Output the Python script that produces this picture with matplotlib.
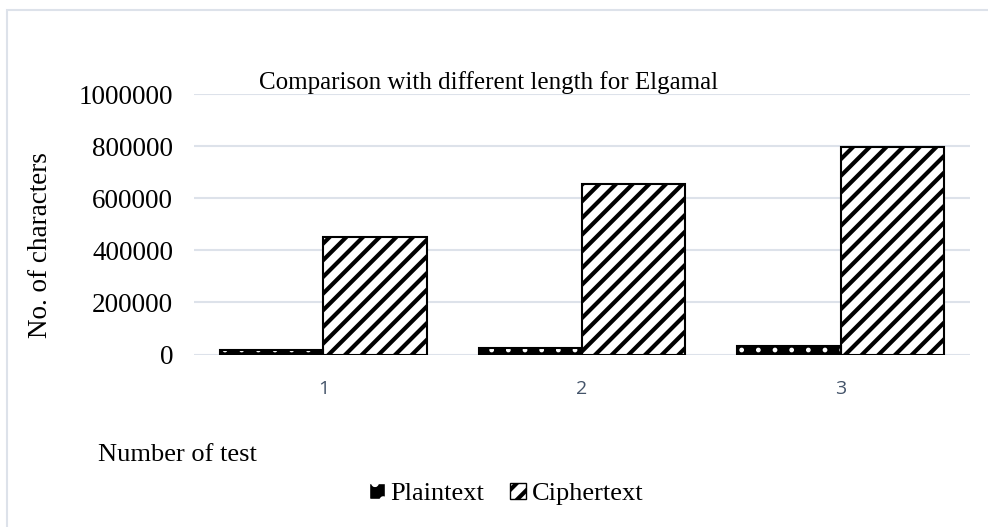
import matplotlib
matplotlib.use('Agg')
import matplotlib.pyplot as plt
import numpy as np
from matplotlib.patches import Patch, Rectangle

# Data
tests = ['1', '2', '3']
plaintext = [17000, 26000, 31000]
ciphertext = [452000, 655000, 796000]
y_ticks = [0, 200000, 400000, 600000, 800000, 1000000]

serif = 'Liberation Serif'

fig = plt.figure(figsize=(9.88, 5.27), dpi=100)
ax = fig.add_axes([194 / 988, 1 - 354.5 / 527, 776 / 988, 260.5 / 527])

x = np.arange(len(tests))
w = 0.4

# Plaintext: black with small white dots
plt.rcParams['hatch.linewidth'] = 1.0
ax.bar(x - w / 2, plaintext, w, color='black', edgecolor='white', hatch='.',
       linewidth=0, zorder=3)
ax.bar(x - w / 2, plaintext, w, fill=False, edgecolor='black', linewidth=1.5, zorder=4)
plain_handle = Patch(facecolor='black', edgecolor='white', hatch='.', label='Plaintext')

# Ciphertext: white with thick diagonal stripes
plt.rcParams['hatch.linewidth'] = 3.0
ax.bar(x + w / 2, ciphertext, w, color='white', edgecolor='black', hatch='//',
       linewidth=0, zorder=3)
ax.bar(x + w / 2, ciphertext, w, fill=False, edgecolor='black', linewidth=1.5, zorder=4)
cipher_handle = Patch(facecolor='white', edgecolor='black', hatch='//', label='Ciphertext')

ax.set_xlim(-0.5, 2.5)
ax.set_ylim(0, 1000000)
ax.set_yticks(y_ticks)
ax.set_yticklabels([str(v) for v in y_ticks], fontfamily=serif, fontsize=19.5)
ax.set_xticks(x)
ax.set_xticklabels(tests, fontfamily='Open Sans', fontsize=14, color='#44546A')
ax.tick_params(axis='x', length=0, pad=18)
ax.tick_params(axis='y', length=0, pad=15)
ax.grid(axis='y', color='#DDE2EA', linewidth=1.5, zorder=0)
for s in ax.spines.values():
    s.set_visible(False)

ax.set_ylabel('No. of characters', fontfamily=serif, fontsize=19.5)
ax.yaxis.set_label_coords(-0.182, 0.42)

fig.text(489 / 988, 1 - 83 / 527, 'Comparison with different length for Elgamal',
         ha='center', va='center', fontfamily=serif, fontsize=18)
fig.text(98 / 988, 1 - 455 / 527, 'Number of test', ha='left', va='center',
         fontfamily=serif, fontsize=19)

# outer chart border (top and left only visible)
fig.patches.append(Rectangle((7 / 988, -0.1), 1.1, 1 - 10 / 527 + 0.1,
                             transform=fig.transFigure, fill=False,
                             edgecolor='#DDE2EA', linewidth=1.5))

leg = fig.legend(handles=[plain_handle, cipher_handle], loc='center',
                 bbox_to_anchor=(506 / 988, 1 - 494 / 527),
                 ncol=2, frameon=False, prop={'family': serif, 'size': 19},
                 handlelength=0.6, handleheight=0.6, handletextpad=0.2, columnspacing=1.0)

fig.savefig('out.png', dpi=100)
